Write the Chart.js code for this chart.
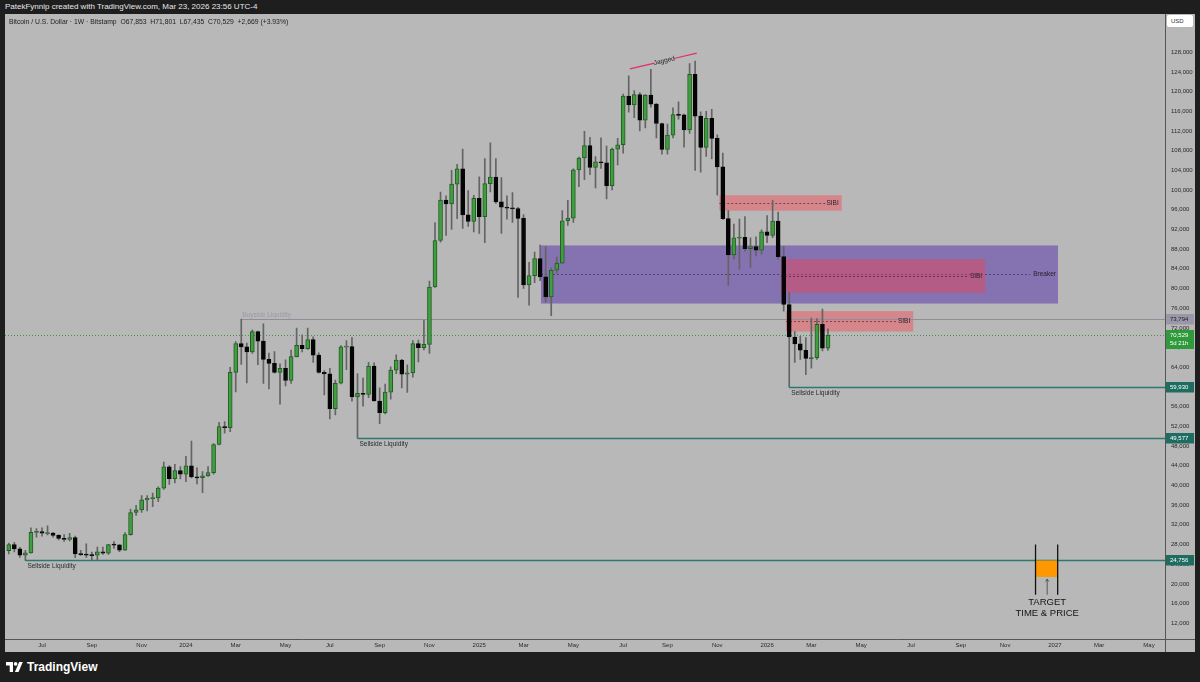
<!DOCTYPE html>
<html>
<head>
<meta charset="utf-8">
<script src="https://cdn.jsdelivr.net/npm/chart.js@4.4.1/dist/chart.umd.min.js"></script>
<style>
  html, body { margin:0; padding:0; width:1200px; height:682px; overflow:hidden; background:#1e1e1e;
    font-family:"Liberation Sans", Arial, sans-serif; }
  #hdr { position:absolute; left:5px; top:2px; color:#e8e8e8; font-size:8px; white-space:nowrap; }
  #wrap { position:absolute; left:5px; top:14px; width:1190px; height:638px; background:#b8b8b8; }
  #legend { position:absolute; left:9px; top:18px; font-size:6.8px; color:#222; white-space:nowrap; }
  #usd { position:absolute; left:1167px; top:15px; width:26px; height:12px; background:#fff; border-radius:2px;
    font-size:6px; color:#333; line-height:12px; text-indent:4px; }
  #logo { position:absolute; left:6px; top:660px; color:#fff; font-size:12px; font-weight:bold; display:flex; align-items:center; gap:4px; }
</style>
</head>
<body>
<div id="hdr">PatekFynnip created with TradingView.com, Mar 23, 2026 23:56 UTC-4</div>
<div id="wrap"><canvas id="c" width="1190" height="638"></canvas></div>
<div id="legend">Bitcoin / U.S. Dollar · 1W · Bitstamp&nbsp; O67,853&nbsp; H71,801&nbsp; L67,435&nbsp; C70,529&nbsp; +2,669 (+3.93%)</div>
<div id="usd">USD</div>
<div id="logo"><svg width="17" height="10" viewBox="0 0 17 10"><path d="M0 0h7v10h-3.3v-6.6h-3.7z" fill="#fff"/><circle cx="9.6" cy="1.9" r="1.8" fill="#fff"/><path d="M13.2 0h3.6l-4.3 10h-3.6z" fill="#fff"/></svg><span>TradingView</span></div>
<script>
'use strict';

// weekly candles, first bar = week of May 22 2023 (week 0 = Jul 3 2023)
const FIRST_WEEK = -6;
const OPEN  = [26750,28000,27100,25850,26300,30480,30600,30280,30300,29860,29230,29050,29400,26100,26000,25870,25830,26530,26250,27970,27930,26860,29990,34500,35020,37060,37350,37450,39450,43780,41350,42990,42280,43950,41700,41580,41950,42600,48300,51950,51700,62950,68800,68150,67100,71250,69300,65600,64800,62950,63800,61300,66150,68450,67750,69600,66450,62950,62650,55600,60750,68150,68200,57950,58700,58500,64250,57150,54750,58950,63400,65450,62600,62850,68800,67950,68650,80300,89750,97950,97150,101200,104300,94950,93600,98300,94600,101300,102600,97600,96500,96300,96250,94250,80700,82600,86050,82350,78300,83700,85150,93750,94300,104100,106500,109000,104600,105700,105500,100900,108300,109200,119100,117300,119400,114200,119300,117450,113500,108250,111150,115300,115250,112200,123500,115000,108650,114550,110500,104700,94200,86800,90300,90400,88100,88500,87800,91500,90800,93700,86460,76750,70150,68750,67450,65800,65950,72700,67853];
const HIGH  = [28300,28450,27400,26800,31400,31250,31400,31800,30450,29990,30000,30250,29700,26800,28150,26450,27450,27450,28050,28580,27990,30400,35200,35950,37950,37950,38450,39700,44750,44000,44300,43800,45900,49000,43550,42800,43800,48500,52800,52950,64000,69200,73794,68900,71600,71350,72800,66900,67200,64700,65500,67500,71950,70600,71950,70200,66950,63300,63800,61400,68400,69400,70000,62700,61800,65000,64900,59800,60600,64100,66500,65600,64500,69400,69500,73600,81500,93400,99600,98800,104000,105200,108300,99900,98900,102700,106400,109600,106400,102500,98800,99500,96500,95000,85300,87400,88800,88500,84200,86400,95800,97900,104300,106700,111900,110700,106800,110600,108900,108500,110500,119500,123200,120200,119800,119400,124500,117600,113600,113400,116700,117900,115400,125700,126200,115900,116000,116400,111200,107500,95800,93100,94100,94600,90300,90500,91900,94800,97900,95500,88500,79140,71260,70300,70000,74000,73900,75800,71801];
const LOW   = [26100,26500,25350,24756,26250,29500,29700,29950,29500,28900,28600,28700,25300,25800,25350,24900,24900,26000,26000,27200,26550,26800,29900,33900,34500,34800,35700,36700,39200,40200,40500,41300,40750,41500,40300,38500,41800,42300,48200,50600,50900,59000,64550,60800,66800,64500,60700,59600,62800,56500,60200,60700,66100,67100,67600,65000,62800,58400,53500,54300,60600,63500,57100,49577,56100,57800,57100,52550,54500,57500,62700,59800,58900,62000,65100,67500,66800,80200,89400,90800,92000,94200,92200,92600,91500,91200,89300,99600,97300,91200,94100,93400,78200,80000,76600,81200,81600,77200,74500,83100,85100,92800,93400,100700,102100,103100,100400,104400,98200,100000,105100,107500,115800,114700,112000,112600,116800,110600,107300,107300,110600,114400,108700,111500,104000,103600,106800,106300,98940,94000,80600,86000,83900,87600,84300,86600,86900,89300,90300,85940,75400,59930,65000,65600,62500,63800,65600,67300,67435];
const CLOSE = [28000,27100,25850,26300,30480,30600,30280,30300,29860,29230,29050,29400,26100,26000,25870,25830,26530,26250,27970,27930,26860,29990,34500,35020,37060,37350,37450,39450,43780,41350,42990,42280,43950,41700,41580,41950,42600,48300,51950,51700,62950,68800,68150,67100,71250,69300,65600,64800,62950,63800,61300,66150,68450,67750,69600,66450,62950,62650,55600,60750,68150,68200,57950,58700,58500,64250,57150,54750,58950,63400,65450,62600,62850,68800,67950,68650,80300,89750,97950,97150,101200,104300,94950,93600,98300,94600,101300,102600,97600,96500,96300,96250,94250,80700,82600,86050,82350,78300,83700,85150,93750,94300,104100,106500,109000,104600,105700,105500,100900,108300,109200,119100,117300,119400,114200,119300,117450,113500,108250,111150,115300,115250,112200,123500,115000,108650,114550,110500,104700,94200,86800,90300,90400,88100,88500,87800,91500,90800,93700,86460,76750,70150,68750,67450,65800,65950,72700,67860,70529];

const X_TICK_POS    = [0, 9, 18, 26, 35, 44, 52, 61, 70, 79, 87, 96, 105, 113, 122, 131, 139, 148, 157, 166, 174, 183, 191, 200];
const X_TICK_LABELS = ['Jul','Sep','Nov','2024','Mar','May','Jul','Sep','Nov','2025','Mar','May','Jul','Sep','Nov','2026','Mar','May','Jul','Sep','Nov','2027','Mar','May'];
const Y_TICKS = [12000,16000,20000,24000,28000,32000,36000,40000,44000,48000,52000,56000,60000,64000,68000,72000,76000,80000,84000,88000,92000,96000,100000,104000,108000,112000,116000,120000,124000,128000];

// drawings (week index / price)
const ZONE_BREAKER = { x0: 90.15, x1: 183.56, top: 88740, bottom: 76940, label: 'Breaker' };
const ZONES_SIBI = [
  { x0: 122.37, x1: 144.48, top: 98940, bottom: 95800, label: 'SIBI' },
  { x0: 133.5,  x1: 170.4,  top: 85940, bottom: 79140, label: 'SIBI' },
  { x0: 134.4,  x1: 157.4,  top: 75400, bottom: 71260, label: 'SIBI' },
];
const SELLSIDE = [ { from: -3, price: 24756 }, { from: 57, price: 49577 }, { from: 135, price: 59930 } ];
const BUYSIDE  = { from: 36, price: 73794 };
const LAST_PRICE = 70529;
const JAGGED = { x0: 106.2, p0: 124600, x1: 118.3, p1: 127800, label: 'Jagged' };
const TARGET = { x0: 179.5, x1: 183.5, mid: 181.6, top: 28000, bottom: 17800, boxTop: 24756, boxBottom: 21400 };

const FONT = '"Liberation Sans", Arial, sans-serif';
const UP = '#3f9e3f', UP_EDGE = '#245c24', DOWN = '#050505', WICK = '#646464';

const bodies = OPEN.map((o, i) => {
  const c = CLOSE[i];
  let lo = Math.min(o, c), hi = Math.max(o, c);
  if (hi - lo < 220) { const m = (hi + lo) / 2; lo = m - 110; hi = m + 110; }
  return { x: FIRST_WEEK + i, y: [lo, hi] };
});
const wicks = OPEN.map((o, i) => ({ x: FIRST_WEEK + i, y: [LOW[i], HIGH[i]] }));
const fills = OPEN.map((o, i) => CLOSE[i] >= o ? UP : DOWN);
const edges = OPEN.map((o, i) => CLOSE[i] >= o ? UP_EDGE : DOWN);

function hline(ctx, x0, x1, yy) { ctx.beginPath(); ctx.moveTo(x0, yy); ctx.lineTo(x1, yy); ctx.stroke(); }

const overlay = {
  id: 'overlay',
  beforeDatasetsDraw(chart) {
    const { ctx, chartArea: a, scales: { x, y } } = chart;
    ctx.save();
    ctx.beginPath(); ctx.rect(a.left, a.top, a.right - a.left, a.bottom - a.top); ctx.clip();

    // breaker zone
    const b = ZONE_BREAKER;
    ctx.fillStyle = 'rgba(82,44,170,0.5)';
    ctx.fillRect(x.getPixelForValue(b.x0), y.getPixelForValue(b.top),
      x.getPixelForValue(b.x1) - x.getPixelForValue(b.x0), y.getPixelForValue(b.bottom) - y.getPixelForValue(b.top));
    ctx.strokeStyle = 'rgba(40,30,70,0.55)'; ctx.lineWidth = 1; ctx.setLineDash([2, 2]);
    const bm = Math.round(y.getPixelForValue((b.top + b.bottom) / 2)) + 0.5;
    hline(ctx, x.getPixelForValue(b.x0), x.getPixelForValue(b.x1) - 28, bm);
    ctx.setLineDash([]);

    // SIBI zones
    ZONES_SIBI.forEach(z => {
      const l = x.getPixelForValue(z.x0), r = x.getPixelForValue(z.x1);
      const t = y.getPixelForValue(z.top), btm = y.getPixelForValue(z.bottom);
      ctx.fillStyle = 'rgba(255,60,70,0.4)';
      ctx.fillRect(l, t, r - l, btm - t);
      ctx.strokeStyle = 'rgba(60,20,30,0.6)'; ctx.setLineDash([2, 2]);
      hline(ctx, l, r - 16, Math.round((t + btm) / 2) + 0.5);
      ctx.setLineDash([]);
    });

    // buyside line
    ctx.strokeStyle = '#8e8e98'; ctx.lineWidth = 1;
    hline(ctx, x.getPixelForValue(BUYSIDE.from), a.right, Math.round(y.getPixelForValue(BUYSIDE.price)) + 0.5);

    // sellside lines
    ctx.strokeStyle = '#2a7a6e'; ctx.lineWidth = 1.5;
    SELLSIDE.forEach(s => hline(ctx, x.getPixelForValue(s.from), a.right, Math.round(y.getPixelForValue(s.price)) + 0.5));

    // last price dotted
    ctx.strokeStyle = '#3c9a46'; ctx.lineWidth = 1; ctx.setLineDash([1, 2]);
    hline(ctx, a.left, a.right, Math.round(y.getPixelForValue(LAST_PRICE)) + 0.5);
    ctx.setLineDash([]);
    ctx.restore();
  },
  afterDatasetsDraw(chart) {
    const { ctx, chartArea: a, scales: { x, y } } = chart;
    ctx.save();
    ctx.textBaseline = 'middle';
    ctx.font = '6.5px ' + FONT;

    // zone labels
    ctx.fillStyle = '#2a2030'; ctx.textAlign = 'right';
    ZONES_SIBI.forEach(z => ctx.fillText(z.label, x.getPixelForValue(z.x1) - 3, y.getPixelForValue((z.top + z.bottom) / 2)));
    ctx.fillText(ZONE_BREAKER.label, x.getPixelForValue(ZONE_BREAKER.x1) - 2, y.getPixelForValue((ZONE_BREAKER.top + ZONE_BREAKER.bottom) / 2));

    // liquidity labels
    ctx.textAlign = 'left'; ctx.textBaseline = 'top'; ctx.fillStyle = '#2b2b2b';
    SELLSIDE.forEach(s => ctx.fillText('Sellside Liquidity', x.getPixelForValue(s.from) + 2, y.getPixelForValue(s.price) + 3));
    ctx.fillStyle = '#9a9aa6'; ctx.textBaseline = 'bottom';
    ctx.fillText('Buyside Liquidity', x.getPixelForValue(BUYSIDE.from) + 1, y.getPixelForValue(BUYSIDE.price) - 1);

    // jagged trendline
    const j = JAGGED;
    const jx0 = x.getPixelForValue(j.x0), jy0 = y.getPixelForValue(j.p0);
    const jx1 = x.getPixelForValue(j.x1), jy1 = y.getPixelForValue(j.p1);
    const lerp = (t) => [jx0 + (jx1 - jx0) * t, jy0 + (jy1 - jy0) * t];
    ctx.strokeStyle = '#e0306a'; ctx.lineWidth = 1.2;
    let p = lerp(0.37);
    ctx.beginPath(); ctx.moveTo(jx0, jy0); ctx.lineTo(p[0], p[1]); ctx.stroke();
    p = lerp(0.66);
    ctx.beginPath(); ctx.moveTo(p[0], p[1]); ctx.lineTo(jx1, jy1); ctx.stroke();
    const m = lerp(0.515);
    ctx.translate(m[0], m[1]); ctx.rotate(Math.atan2(jy1 - jy0, jx1 - jx0));
    ctx.fillStyle = '#222'; ctx.textAlign = 'center'; ctx.textBaseline = 'middle';
    ctx.fillText(j.label, 0, 0);
    ctx.setTransform(1, 0, 0, 1, 0, 0);

    // target time & price
    const t = TARGET;
    const tl = x.getPixelForValue(t.x0), tr = x.getPixelForValue(t.x1), tm = x.getPixelForValue(t.mid);
    ctx.fillStyle = '#ff9800';
    ctx.fillRect(tl, y.getPixelForValue(t.boxTop), tr - tl, y.getPixelForValue(t.boxBottom) - y.getPixelForValue(t.boxTop));
    ctx.strokeStyle = '#111'; ctx.lineWidth = 1.3;
    [tl, tr].forEach(xx => { ctx.beginPath(); ctx.moveTo(xx, y.getPixelForValue(t.top)); ctx.lineTo(xx, y.getPixelForValue(t.bottom)); ctx.stroke(); });
    ctx.strokeStyle = '#555'; ctx.lineWidth = 1;
    const at = y.getPixelForValue(t.boxBottom) + 2;
    ctx.beginPath(); ctx.moveTo(tm, at); ctx.lineTo(tm, y.getPixelForValue(t.bottom)); ctx.stroke();
    ctx.beginPath(); ctx.moveTo(tm - 1.5, at + 2.5); ctx.lineTo(tm, at); ctx.lineTo(tm + 1.5, at + 2.5); ctx.stroke();
    ctx.fillStyle = '#141414'; ctx.font = '9.5px ' + FONT; ctx.textAlign = 'center'; ctx.textBaseline = 'top';
    const ty = y.getPixelForValue(t.bottom) + 3;
    ctx.fillText('TARGET', tm, ty);
    ctx.fillText('TIME & PRICE', tm, ty + 11);
    ctx.restore();
  },
  afterDraw(chart) {
    const { ctx, chartArea: a, scales: { y } } = chart;
    ctx.save();
    // pane separators
    ctx.strokeStyle = '#555'; ctx.lineWidth = 1;
    ctx.beginPath(); ctx.moveTo(a.right + 0.5, 0); ctx.lineTo(a.right + 0.5, chart.height); ctx.stroke();
    ctx.beginPath(); ctx.moveTo(0, a.bottom + 0.5); ctx.lineTo(chart.width, a.bottom + 0.5); ctx.stroke();

    const tag = (price, lines, bg, fg) => {
      const yy = y.getPixelForValue(price);
      const h = lines.length * 8.5 + 2;
      ctx.fillStyle = bg;
      ctx.fillRect(a.right + 1, Math.round(yy - 5), 28, h);
      ctx.fillStyle = fg; ctx.font = '6px ' + FONT; ctx.textAlign = 'left'; ctx.textBaseline = 'middle';
      lines.forEach((s, i) => ctx.fillText(s, a.right + 5, yy + i * 8.5));
    };
    tag(BUYSIDE.price, ['73,794'], '#9898a8', '#222');
    tag(LAST_PRICE, ['70,529', '5d 21h'], '#2f9a3c', '#fff');
    SELLSIDE.forEach(s => tag(s.price, [s.price.toLocaleString('en-US')], '#1e6d60', '#fff'));
    ctx.restore();
  }
};

new Chart(document.getElementById('c'), {
  type: 'bar',
  data: {
    datasets: [
      { label: 'body', data: bodies, backgroundColor: fills, borderColor: edges, borderWidth: 1,
        borderSkipped: false, barThickness: 4, grouped: false, order: 1 },
      { label: 'wick', data: wicks, backgroundColor: WICK, borderWidth: 0,
        barThickness: 1, grouped: false, order: 2 },
    ],
  },
  options: {
    responsive: false,
    animation: false,
    layout: { padding: 0 },
    plugins: { legend: { display: false }, tooltip: { enabled: false } },
    scales: {
      x: {
        type: 'linear', min: -6.685, max: 202.89, offset: false,
        grid: { display: false, drawTicks: false, tickLength: 0 }, border: { display: false },
        afterBuildTicks: s => { s.ticks = X_TICK_POS.map(v => ({ value: v })); },
        afterFit: s => { s.height = 13; },
        ticks: { autoSkip: false, maxRotation: 0, padding: 3, color: '#2a2a2a',
          font: { size: 6, family: FONT }, callback: (v, i) => X_TICK_LABELS[i] },
      },
      y: {
        position: 'right', min: 8800, max: 133800,
        grid: { display: false, drawTicks: false, tickLength: 0 }, border: { display: false },
        afterBuildTicks: s => { s.ticks = Y_TICKS.map(v => ({ value: v })); },
        afterFit: s => { s.width = 30; },
        ticks: { autoSkip: false, padding: 6, color: '#2a2a2a',
          font: { size: 6, family: FONT }, callback: v => v.toLocaleString('en-US') },
      },
    },
  },
  plugins: [overlay],
});
</script>
</body>
</html>
